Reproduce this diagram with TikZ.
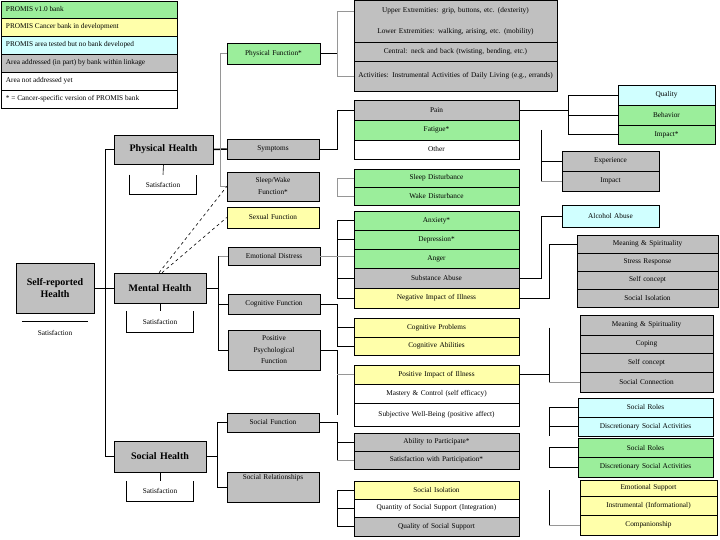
\documentclass[tikz,border=0pt]{standalone}
\usepackage{fontspec}
\setmainfont{Liberation Serif}
\definecolor{boxgray}{RGB}{192,192,192}
\definecolor{boxgreen}{RGB}{155,238,155}
\definecolor{boxyellow}{RGB}{255,255,170}
\definecolor{boxcyan}{RGB}{208,255,255}
\definecolor{linegray}{RGB}{150,150,150}
\tikzset{
  bx/.style={draw=black, line width=0.5pt, inner sep=0pt, align=center, font=\fontsize{7.3}{8.5}\selectfont},
  gr/.style={bx, fill=boxgray},
  grn/.style={bx, fill=boxgray, draw=none},
  gn/.style={bx, fill=boxgreen},
  yl/.style={bx, fill=boxyellow},
  cy/.style={bx, fill=boxcyan},
  wh/.style={bx, fill=white},
  hd/.style={bx, fill=boxgray, font=\fontsize{10}{11.5}\selectfont\bfseries},
  sat/.style={bx, draw=none, fill=none},
  lt/.style={anchor=west, inner sep=0pt, font=\fontsize{7.3}{8.5}\selectfont},
  conn/.style={line width=0.6pt, black},
  gconn/.style={line width=0.6pt, linegray},
  thk/.style={line width=1.5pt, black},
}
\newcommand\mybox[7]{%
  \pgfmathsetmacro\myBW{#5-#3}\pgfmathsetmacro\myBH{#6-#4}%
  \pgfmathsetmacro\myCX{(#3+#5)/2}\pgfmathsetmacro\myCY{(#4+#6)/2}%
  \pgfmathsetmacro\myTW{#5-#3-4}%
  \node[#2, minimum width=\myBW pt, minimum height=\myBH pt, text width=\myTW pt] (#1) at (\myCX,\myCY) {#7};}
\begin{document}
\begin{tikzpicture}[x=1pt,y=-1pt]
\useasboundingbox (0,0) rectangle (720,540);
% legend
\mybox{lg1}{gn}{1}{1}{177}{18}{}
\mybox{lg2}{yl}{1}{18}{177}{36}{}
\mybox{lg3}{cy}{1}{36}{177}{54}{}
\mybox{lg4}{gr}{1}{54}{177}{72}{}
\mybox{lg5}{wh}{1}{72}{177}{90}{}
\mybox{lg6}{wh}{1}{90}{177}{108}{}
\node[lt] (lt1) at ([xshift=5pt]lg1.west) {PROMIS v1.0 bank};
\node[lt] (lt2) at ([xshift=5pt]lg2.west) {PROMIS Cancer bank in development};
\node[lt] (lt3) at ([xshift=5pt]lg3.west) {PROMIS area tested but no bank developed};
\node[lt] (lt4) at ([xshift=5pt]lg4.west) {Area addressed (in part) by bank within linkage};
\node[lt] (lt5) at ([xshift=5pt]lg5.west) {Area not addressed yet};
\node[lt] (lt6) at ([xshift=5pt]lg6.west) {* = Cancer-specific version of PROMIS bank};
% level 1
\mybox{srh}{hd}{16}{263}{94}{313}{Self-reported\\Health}
\mybox{srhsat}{sat}{22}{322}{88}{343}{Satisfaction}
\mybox{ph}{hd}{114}{135}{213}{164}{Physical Health}
\mybox{phsat}{sat}{130}{175}{196}{194}{Satisfaction}
\mybox{mh}{hd}{114}{273}{206}{303}{Mental Health}
\mybox{mhsat}{sat}{127}{311}{193}{332}{Satisfaction}
\mybox{sh}{hd}{114}{441}{206}{472}{Social Health}
\mybox{shsat}{sat}{127}{481}{193}{501}{Satisfaction}
% level 2
\mybox{pf}{gn}{227}{43}{320}{64}{Physical Function*}
\mybox{sym}{gr}{227}{139}{319}{159}{Symptoms}
\mybox{sw}{gr, font=\fontsize{7.3}{12}\selectfont}{227}{172}{319}{201}{Sleep/Wake\\Function*}
\mybox{sf}{yl}{227}{207}{319}{228}{Sexual Function}
\mybox{ed}{gr}{228}{247}{320}{265}{Emotional Distress}
\mybox{cf}{gr}{228}{294}{320}{314}{Cognitive Function}
\mybox{ppf}{gr, font=\fontsize{7.3}{11.5}\selectfont}{228}{330}{320}{370}{Positive\\Psychological\\Function}
\mybox{sfn}{gr}{227}{413}{319}{432}{Social Function}
\mybox{sr}{gr}{227}{472}{319}{502}{Social Relationships\\[9pt]\strut}
% level 3
\mybox{ue}{grn}{354}{1}{557}{21}{Upper Extremities: grip, buttons, etc. (dexterity)}
\mybox{le}{grn}{354}{21}{557}{42}{Lower Extremities: walking, arising, etc. (mobility)}
\draw[line width=0.5pt] (ue.north west) rectangle (le.south east);
\mybox{cen}{gr}{354}{42}{557}{61}{Central: neck and back (twisting, bending, etc.)}
\mybox{act}{gr, font=\fontsize{7.3}{12.5}\selectfont}{354}{61}{557}{91}{Activities: Instrumental Activities of Daily Living (e.g., errands)}
\mybox{pain}{gr}{354}{100}{519}{120}{Pain}
\mybox{fat}{gn}{354}{120}{519}{140}{Fatigue*}
\mybox{oth}{wh}{354}{140}{519}{159}{Other}
\mybox{sd}{gn}{354}{169}{519}{187}{Sleep Disturbance}
\mybox{wd}{gn}{354}{187}{519}{205}{Wake Disturbance}
\mybox{anx}{gn}{354}{211}{519}{230}{Anxiety*}
\mybox{dep}{gn}{354}{230}{519}{249}{Depression*}
\mybox{ang}{gn}{354}{249}{519}{268}{Anger}
\mybox{sa}{gr}{354}{268}{519}{288}{Substance Abuse}
\mybox{nii}{yl}{354}{288}{519}{308}{Negative Impact of Illness}
\mybox{cp}{yl}{354}{318}{519}{337}{Cognitive Problems}
\mybox{ca}{yl}{354}{337}{519}{355}{Cognitive Abilities}
\mybox{pii}{yl}{354}{365}{519}{384}{Positive Impact of Illness}
\mybox{mc}{wh}{354}{384}{519}{403}{Mastery \& Control (self efficacy)}
\mybox{swb}{wh}{354}{403}{519}{426}{Subjective Well-Being (positive affect)}
\mybox{ap}{gr}{354}{433}{519}{451}{Ability to Participate*}
\mybox{swp}{gr}{354}{451}{519}{469}{Satisfaction with Participation*}
\mybox{si}{yl}{354}{481}{519}{499}{Social Isolation}
\mybox{qss}{wh}{354}{499}{519}{517}{Quantity of Social Support (Integration)}
\mybox{qls}{gr}{354}{517}{519}{536}{Quality of Social Support}
% level 4
\mybox{qual}{cy}{618}{85}{715}{105}{Quality}
\mybox{beh}{gn}{618}{105}{715}{125}{Behavior}
\mybox{imp}{gn}{618}{125}{715}{144}{Impact*}
\mybox{exp}{gr}{562}{151}{659}{171}{Experience}
\mybox{impb}{gr}{562}{171}{659}{191}{Impact}
\mybox{aa}{cy}{562}{205}{659}{227}{Alcohol Abuse}
\mybox{ms1}{gr}{577}{235}{718}{253}{Meaning \& Spirituality}
\mybox{str}{gr}{577}{253}{718}{271}{Stress Response}
\mybox{sc1}{gr}{577}{271}{718}{289}{Self concept}
\mybox{si2}{gr}{577}{289}{718}{307}{Social Isolation}
\mybox{ms2}{gr}{580}{315}{713}{335}{Meaning \& Spirituality}
\mybox{cop}{gr}{580}{335}{713}{353}{Coping}
\mybox{sc2}{gr}{580}{353}{713}{372}{Self concept}
\mybox{scn}{gr}{580}{372}{713}{392}{Social Connection}
\mybox{srl1}{cy}{578}{398}{713}{417}{Social Roles}
\mybox{dsa1}{cy}{578}{417}{713}{436}{Discretionary Social Activities}
\mybox{srl2}{gn}{578}{438}{713}{457}{Social Roles}
\mybox{dsa2}{gn}{578}{457}{713}{477}{Discretionary Social Activities}
\mybox{es}{yl}{580}{480}{717}{496}{Emotional Support}
\mybox{ins}{yl}{580}{496}{717}{515}{Instrumental (Informational)}
\mybox{comp}{yl}{580}{515}{717}{535}{Companionship}
% spines
\coordinate (tr) at (105,0);
\coordinate (p2) at (220,0);
\coordinate (m2) at (218,0);
\coordinate (s2) at (217,0);
\coordinate (c3) at (337,0);
\coordinate (c4) at (541,0);
\coordinate (c5) at (568,0);
\coordinate (c6) at (549,0);
% level 1 connectors
\draw[conn] (srh.east) -- (mh.west);
\draw[conn] (ph.west) -- (ph.west -| tr) -- (sh.west -| tr) -- (sh.west);
\draw[conn] (ph.south) -- (phsat.north);
\draw[conn] (mh.south) -- (mhsat.north);
\draw[conn] (sh.south) -- (shsat.north);
\foreach \s in {phsat,mhsat,shsat} \draw[conn] (\s.north west) -- (\s.south west) -- (\s.south east) -- (\s.north east);
\draw[conn] (srhsat.north west) -- (srhsat.north east);
% physical
\draw[thk] (ph.east) -- (sym.west);
\draw[gconn] (pf.west) -- (pf.west -| p2) -- (sw.west -| p2) -- (sw.west);
\draw[conn, dashed] ([xshift=-1pt]mh.north) -- (sw.west);
\draw[conn, dashed] ([xshift=2pt]mh.north) -- (sf.west);
% mental
\draw[conn] (mh.east) -- (mh.east -| m2);
\draw[gconn] (ed.west -| m2) -- (ed.west);
\draw[conn] (ed.west -| m2) -- (ppf.west -| m2) -- (ppf.west);
\draw[conn] (cf.west -| m2) -- (cf.west);
% social
\draw[conn] (sh.east) -- (sh.east -| s2);
\draw[conn] (sfn.west) -- (sfn.west -| s2) -- (sr.west -| s2) -- (sr.west);
% level 2 -> 3
\draw[thk] (pf.east) -- (pf.east -| c3);
\draw[gconn] (ue.west) -- (ue.west -| c3) -- (act.west -| c3) -- (act.west);
\draw[conn] (sym.east) -- (sym.east -| c3) -- (pain.west -| c3) -- (pain.west);
\draw[gconn] (sd.west) -- (sd.west -| c3) -- (wd.west -| c3) -- (wd.west);
\draw[conn] (anx.west) -- (anx.west -| c3) -- (nii.west -| c3) -- (nii.west);
\draw[conn] (dep.west -| c3) -- (dep.west);
\draw[gconn] (ed.east) -- (ed.east -| ang.west);
\draw[conn] (sa.west -| c3) -- (sa.west);
\draw[conn] (cf.east) -- (cf.east -| c3) -- (ca.west -| c3) -- (ca.west);
\draw[conn] (cp.west -| c3) -- (cp.west);
\draw[conn] (ppf.east) -- (ppf.east -| c3) -- (swb.west -| c3);
\draw[gconn] (pii.west -| c3) -- (pii.west);
\draw[conn] (sfn.east) -- (sfn.east -| c3) -- (swp.west -| c3);
\draw[conn] (ap.west -| c3) -- (ap.west);
\draw[gconn] (swp.west -| c3) -- (swp.west);
\draw[conn] (si.west) -- (si.west -| c3) -- (qls.west -| c3) -- (qls.west);
\draw[conn] (qss.west -| c3) -- (qss.west);
% level 3 -> 4
\draw[conn] (pain.east) -- (pain.east -| c5);
\draw[conn] (qual.west) -- (qual.west -| c5) -- (imp.west -| c5) -- (imp.west);
\draw[conn] (beh.west -| c5) -- (beh.west);
\draw[conn] (fat.east -| c4) -- (impb.west -| c4);
\draw[conn] (exp.west -| c4) -- (exp.west);
\draw[gconn] (impb.west -| c4) -- (impb.west);
\draw[conn] (sa.east) -- (sa.east -| c4) -- (aa.west -| c4) -- (aa.west);
\draw[conn] (nii.east) -- (nii.east -| c6) -- (ms1.west -| c6) -- (ms1.west);
\draw[conn] (pii.east) -- (pii.east -| c6);
\draw[conn] (cp.east -| c6) -- (scn.west -| c6);
\draw[gconn] (scn.west -| c6) -- (scn.west);
\draw[conn] (srl1.west) -- (srl1.west -| c6) -- (dsa1.south -| c6);
\draw[conn] (dsa1.west -| c6) -- (dsa1.west);
\draw[conn] (srl2.west) -- (srl2.west -| c6) -- (dsa2.west -| c6) -- (dsa2.west);
\draw[conn] (si.east -| c6) -- (comp.west -| c6);
\draw[gconn] (comp.west -| c6) -- (comp.west);
\end{tikzpicture}
\end{document}
